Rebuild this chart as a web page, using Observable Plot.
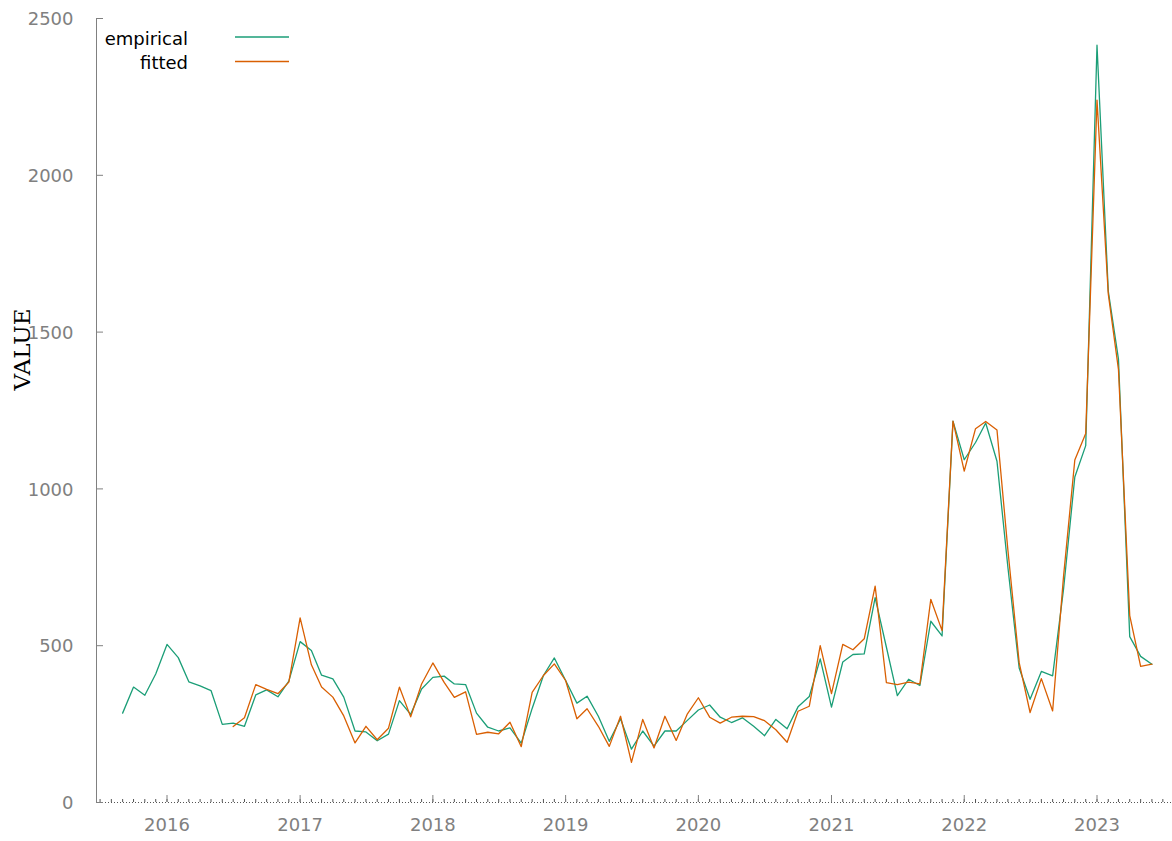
<!DOCTYPE html>
<html><head><meta charset="utf-8">
<script src="https://cdn.jsdelivr.net/npm/d3@7"></script>
<script src="https://cdn.jsdelivr.net/npm/@observablehq/plot@0.6"></script>
<style>
html,body{margin:0;padding:0;background:#fff;}
#wrap{position:relative;width:1172px;height:841px;}
#legend{position:absolute;left:0;top:0;}
</style></head><body>
<div id="wrap"></div>
<script>
// ---- data ----
const empiricalStart = "2015-09";
const empiricalValues = [
  285, 368, 342, 410,
  504, 462, 385, 372, 357, 249, 253, 243, 343, 359, 337, 387,
  513, 485, 406, 394, 336, 228, 225, 197, 218, 325, 281, 362,
  399, 403, 378, 376, 285, 240, 228, 238, 189, 300, 405, 461,
  389, 317, 339, 275, 195, 267, 170, 228, 180, 228, 228, 261,
  295, 311, 272, 255, 270, 243, 213, 265, 235, 305, 338, 458,
  304, 448, 472, 474, 653, 495, 341, 393, 373, 578, 531, 1216,
  1093, 1148, 1210, 1088, 750, 429, 329, 418, 404, 680, 1038, 1138,
  2415, 1631, 1414, 529, 466, 441
];
const fittedStart = "2016-07";
const fittedValues = [
  242, 270, 376, 361, 347, 384,
  589, 439, 368, 336, 276, 190, 243, 200, 237, 368, 273, 378,
  445, 383, 335, 353, 217, 224, 219, 256, 178, 351, 405, 442,
  389, 267, 299, 243, 179, 275, 128, 265, 174, 275, 198, 281,
  334, 272, 253, 272, 275, 274, 261, 232, 192, 291, 307, 500,
  347, 504, 487, 522, 690, 382, 376, 384, 378, 648, 548, 1216,
  1057, 1192, 1215, 1188, 805, 446, 287, 395, 292, 721, 1092, 1177,
  2240, 1622, 1381, 596, 434, 441
];
const yTicks = [0, 500, 1000, 1500, 2000, 2500];
const yearTicks = [2016, 2017, 2018, 2019, 2020, 2021, 2022, 2023];
const seriesNames = ["empirical", "fitted"];
const seriesColors = ["#1b9e77", "#d95f02"];
const yLabel = "VALUE";

// ---- build tables ----
const parseMonth = d3.utcParse("%Y-%m");
function toSeries(start, values) {
  const s = parseMonth(start);
  return values.map((v, i) => ({date: d3.utcMonth.offset(s, i), value: v}));
}
const empirical = toSeries(empiricalStart, empiricalValues);
const fitted = toSeries(fittedStart, fittedValues);

// ---- layout ----
const W = 1172, H = 841, mL = 96, mR = 0, mT = 18, mB = 39;
const px2016 = 166.5, px2023 = 1096.5;
const t2016 = Date.UTC(2016, 0, 1), t2023 = Date.UTC(2023, 0, 1);
const k = (px2023 - px2016) / (t2023 - t2016);
const d0 = new Date(t2016 - (px2016 - mL) / k);
const d1 = new Date(t2016 + (W - mR - px2016) / k);
const yearDates = yearTicks.map(y => new Date(Date.UTC(y, 0, 1)));
const monthDates = d3.utcMonth.range(d3.utcMonth.ceil(d0), d1);
const frameH = H - mT - mB, frameW = W - mL - mR;
const axisColor = "#808080";
const font = "DejaVu Sans";

const chart = Plot.plot({
  width: W, height: H,
  marginLeft: mL, marginRight: mR, marginTop: mT, marginBottom: mB,
  style: {background: "#fff", fontFamily: font},
  x: {type: "utc", domain: [d0, d1], axis: null},
  y: {domain: [0, 2500], axis: null},
  marks: [
    Plot.ruleX([d0], {stroke: axisColor, strokeWidth: 1}),
    Plot.ruleY([0], {stroke: "#555", strokeDasharray: "1,2", strokeWidth: 1}),
    Plot.ruleX(monthDates, {x: d => d, stroke: "#555", insetTop: frameH - 3}),
    Plot.ruleX(yearDates, {x: d => d, stroke: axisColor, insetTop: frameH - 7}),
    Plot.ruleY(yTicks, {y: d => d, stroke: axisColor, insetRight: frameW - 7}),
    Plot.text(yTicks, {y: d => d, text: d => String(d), frameAnchor: "left", dx: -23, dy: 1,
      textAnchor: "end", fill: axisColor, fontSize: 18, fontFamily: font}),
    Plot.text(yearDates, {x: d => d, text: d => String(d.getUTCFullYear()), frameAnchor: "bottom", dy: 28,
      fill: axisColor, fontSize: 18, fontFamily: font}),
    Plot.text([yLabel], {frameAnchor: "left", dx: -74, dy: -61, rotate: -90, textAnchor: "middle",
      fill: "#000", fontSize: 23, fontFamily: "DejaVu Serif"}),
    Plot.line(empirical, {x: "date", y: "value", stroke: seriesColors[0], strokeWidth: 1.3}),
    Plot.line(fitted, {x: "date", y: "value", stroke: seriesColors[1], strokeWidth: 1.3})
  ]
});
const wrap = document.getElementById("wrap");
wrap.appendChild(chart);

// ---- legend (overlay) ----
const ns = "http://www.w3.org/2000/svg";
const leg = document.createElementNS(ns, "svg");
leg.setAttribute("id", "legend");
leg.setAttribute("width", 320); leg.setAttribute("height", 90);
seriesNames.forEach((name, i) => {
  const cy = 37 + i * 24.5;
  const t = document.createElementNS(ns, "text");
  t.setAttribute("x", 188); t.setAttribute("y", cy + 2.5);
  t.setAttribute("text-anchor", "end"); t.setAttribute("dominant-baseline", "middle");
  t.setAttribute("font-family", font); t.setAttribute("font-size", 18); t.setAttribute("fill", "#000");
  t.textContent = name;
  leg.appendChild(t);
  const l = document.createElementNS(ns, "line");
  l.setAttribute("x1", 235); l.setAttribute("x2", 289);
  l.setAttribute("y1", cy); l.setAttribute("y2", cy);
  l.setAttribute("stroke", seriesColors[i]); l.setAttribute("stroke-width", 1.5);
  leg.appendChild(l);
});
wrap.appendChild(leg);
</script>
</body></html>
